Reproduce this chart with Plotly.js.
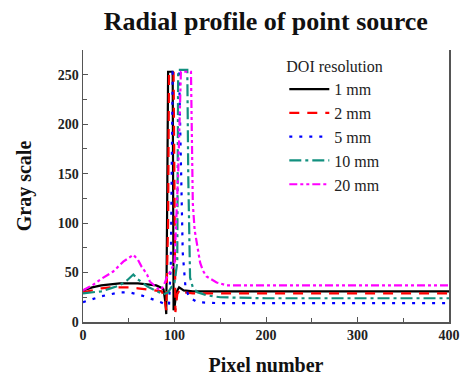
<!DOCTYPE html>
<html><head><meta charset="utf-8">
<script src="https://cdn.plot.ly/plotly-3.0.1.min.js"></script>
<style>body{margin:0;padding:0;background:#fff}#chart{width:460px;height:376px}</style>
</head><body><div id="chart"></div>
<script>
// Series names
var seriesNames = ["1 mm", "2 mm", "5 mm", "10 mm", "20 mm"];

// 1 mm
var x1mm = [0,10,20,30,40,50,60,70,80,85,88,90,91,92,93,97,98,99,100,102,105,110,120,140,200,300,400];
var y1mm = [32,35,37,38,39,39,39,38,37,35,33,20,8,120,253,253,253,12,15,30,35,32,31,31,31,31,31];

// 2 mm
var x2mm = [0,10,20,30,40,50,60,70,80,86,89,91,93,94,99,100,101,103,106,110,120,140,200,300,400];
var y2mm = [30,32,34,35,35,35,34,33,32,31,25,12,100,253,253,120,10,28,33,30,29,29,29,29,29];

// 5 mm
var x5mm = [0,10,20,30,40,50,60,70,80,85,90,94,96,98,105,107,109,112,116,125,150,200,300,400];
var y5mm = [20,23,26,28,30,30,28,25,22,20,18,17,60,253,253,150,70,35,25,20,19,19,19,19];

// 10 mm
var x10mm = [0,10,20,30,40,48,55,60,65,70,80,88,93,97,100,103,104,114,115,117,120,125,135,150,200,300,400];
var y10mm = [29,30,31,34,37,42,48,43,40,36,32,28,30,35,40,60,255,255,150,45,35,30,27,25,24,24,24];

// 20 mm
var x20mm = [0,10,19,33,44,55,60,64,70,73,79,84,88,92,96,100,104,107,118,119,120,122,125,128,131,135,146,157,200,300,400];
var y20mm = [32,37,43,51,61,68,63,56,48,41,36,32,36,46,52,60,150,253,253,200,120,93,75,60,52,46,40,37,37,37,37];

var xs = [x1mm, x2mm, x5mm, x10mm, x20mm];
var ys = [y1mm, y2mm, y5mm, y10mm, y20mm];
var colors = ["#000000", "#ff0000", "#0000ff", "#12907f", "#ff00ff"];
var dashes = ["solid", "10px,8px", "3px,7px", "12px,4px,3px,4px", "8px,3px,3px,3px,3px,3px"];

var traces = seriesNames.map(function(n, i){
  return {x: xs[i], y: ys[i], name: n, type: "scatter", mode: "lines",
          line: {color: colors[i], width: 2.2, dash: dashes[i]}};
});

var serif = "Liberation Serif";
var layout = {
  width: 460, height: 376,
  margin: {l: 83, r: 11, t: 50, b: 54},
  paper_bgcolor: "#fff", plot_bgcolor: "#fff",
  title: {text: "<b>Radial profile of point source</b>", font: {family: serif, size: 26, color: "#111"},
          x: 0.578, xanchor: "center", y: 0.945, yanchor: "middle"},
  xaxis: {range: [0, 400], tickvals: [0,100,200,300,400], ticktext: ["<b>0</b>","<b>100</b>","<b>200</b>","<b>300</b>","<b>400</b>"],
          ticks: "inside", ticklen: 5, tickcolor: "#555", showgrid: false, zeroline: false,
          showline: true, linecolor: "#555", linewidth: 1.5, mirror: false,
          minor: {tickvals: [50,150,250,350], ticks: "inside", ticklen: 4, tickcolor: "#555"},
          tickfont: {family: serif, size: 14, color: "#222"},
          title: {text: "<b>Pixel number</b>", font: {family: serif, size: 20, color: "#111"}, standoff: 16}},
  yaxis: {range: [0, 275], tickvals: [0,50,100,150,200,250], ticktext: ["<b>0</b>","<b>50</b>","<b>100</b>","<b>150</b>","<b>200</b>","<b>250</b>"],
          ticks: "inside", ticklen: 5, tickcolor: "#555", showgrid: false, zeroline: false,
          showline: true, linecolor: "#555", linewidth: 1.5, mirror: true,
          minor: {tickvals: [25,75,125,175,225], ticks: "inside", ticklen: 4, tickcolor: "#555"},
          tickfont: {family: serif, size: 14, color: "#222"},
          title: {text: "<b>Gray scale</b>", font: {family: serif, size: 20, color: "#111"}, standoff: 20}},
  legend: {x: 0.55, y: 0.995, xanchor: "left", yanchor: "top", bgcolor: "rgba(0,0,0,0)",
           font: {family: serif, size: 16, color: "#222"}, itemwidth: 40, tracegroupgap: 0,
           title: {text: "DOI resolution", font: {family: serif, size: 16, color: "#222"}}},
  showlegend: true
};
Plotly.newPlot("chart", traces, layout, {displayModeBar: false, staticPlot: true});
</script></body></html>
